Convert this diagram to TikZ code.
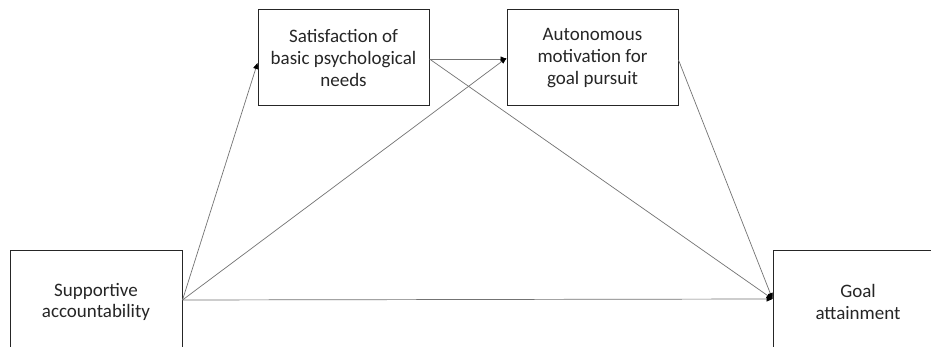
\documentclass[tikz,border=0pt]{standalone}
\usepackage{fontspec}
\setmainfont{Carlito}
\usetikzlibrary{arrows.meta}
\begin{document}
\begin{tikzpicture}[x=1pt,y=1pt,
  box/.style={draw=black!85,line width=1pt,rectangle,align=center,inner sep=0pt,
    font=\fontsize{19}{21.7}\selectfont,text=black!85},
  conn/.style={draw=black!55,line width=0.7pt,-{Triangle[length=6pt,width=5pt,fill=black,color=black]}}]
\useasboundingbox (0,0) rectangle (931,347);
\clip (0,0) rectangle (931,347);
\fill[white] (0,0) rectangle (931,347);
\node[box,minimum width=172pt,minimum height=102pt] (sup) at (96,45) {Supportive\\accountability};
\node[box,minimum width=170pt,minimum height=102pt] (goal) at (858,45) {Goal\\attainment};
\node[box,minimum width=171pt,minimum height=96pt] (sat) at (343.5,289) {Satisfaction of\\basic psychological\\needs};
\node[box,minimum width=171pt,minimum height=96pt] (aut) at (592.5,289) {Autonomous\\motivation for\\goal pursuit};
\coordinate (s0) at ([yshift=2pt]sup.east);
\coordinate (g0) at ([yshift=3pt]goal.west);
\draw[conn] (s0) -- ([yshift=-5pt]sat.west);
\draw[conn] (s0) -- (aut.west);
\draw[conn] (s0) -- (g0);
\draw[conn] ([yshift=-1pt]sat.east) -- ([yshift=-1pt]aut.west);
\draw[conn] ([yshift=-1pt]sat.east) -- (g0);
\draw[conn] ([yshift=-2pt]aut.east) -- (g0);
\end{tikzpicture}
\end{document}
